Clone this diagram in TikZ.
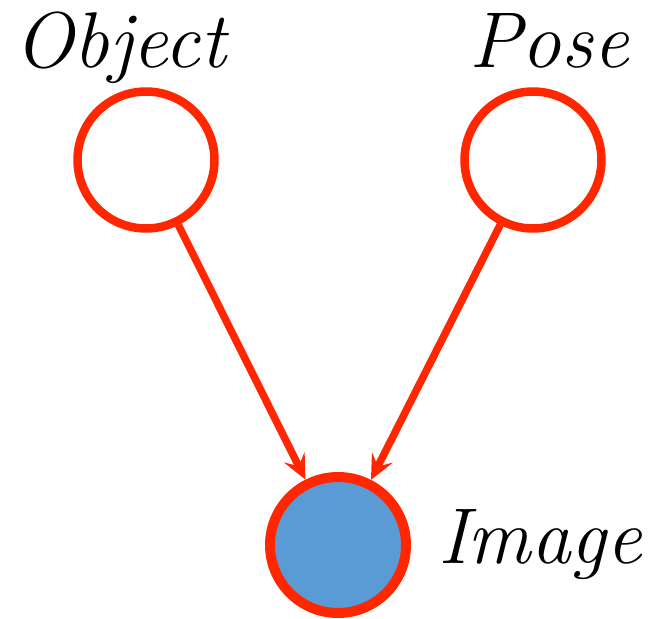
\documentclass[tikz,border=0pt]{standalone}
\usepackage{fontspec}
\usepackage{xcolor}
\usetikzlibrary{arrows.meta, positioning}

\definecolor{nodered}{RGB}{255,38,0}
\definecolor{nodeblue}{RGB}{91,155,213}

\begin{document}
\begin{tikzpicture}[x=0.02cm, y=-0.02cm, >={Stealth[length=0.5cm, width=0.46cm, inset=0.2cm]}]

    % =================================================================
    % 1. KHUNG VA TOA DO CAC NUT
    % =================================================================
    \useasboundingbox (0,0) rectangle (651,618);
    \coordinate (O) at (146,160);
    \coordinate (P) at (533,160);
    \coordinate (I) at (338,545);

    % =================================================================
    % 2. CAC NUT (VONG TRON)
    % =================================================================
    \tikzset{
        latent/.style={circle, draw=nodered, fill=white, line width=0.17cm, minimum size=2.74cm, inner sep=0pt},
        observed/.style={circle, draw=nodered, fill=nodeblue, line width=0.2cm, minimum size=2.72cm, inner sep=0pt},
        lbl/.style={font=\itshape\fontsize{45}{50}\selectfont, inner sep=0pt, anchor=base}
    }
    \node[latent] (object) at (O) {};
    \node[latent] (pose) at (P) {};
    \node[observed] (image) at (I) {};

    % =================================================================
    % 3. MUI TEN
    % =================================================================
    \draw[->, nodered, line width=0.15cm] (object) -- (image);
    \draw[->, nodered, line width=0.15cm] (pose) -- (image);

    % =================================================================
    % 4. NHAN
    % =================================================================
    \node[lbl] (objlabel) at (120,68) {Object};
    \node[lbl] (poselabel) at (549,68) {Pose};
    \node[lbl] (imglabel) at (540,563) {Image};

\end{tikzpicture}
\end{document}
